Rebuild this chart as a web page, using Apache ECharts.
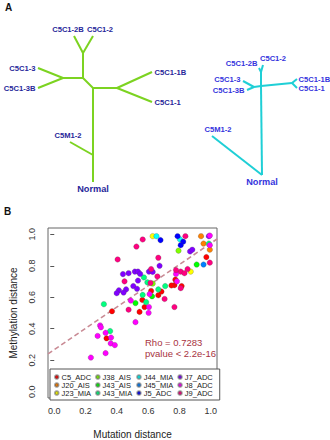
<!DOCTYPE html>
<html>
<head>
<meta charset="utf-8">
<script src="https://cdn.jsdelivr.net/npm/echarts@6/dist/echarts.min.js"></script>
<style>
  html, body { margin: 0; padding: 0; background: #fff; }
  #chart { width: 330px; height: 440px; }
</style>
</head>
<body>
<div id="chart"></div>
<script>
// ---- panel A: tree layouts (node name, x, y, label side, label offset) ----
const greenNodes = [
  ['C5C1-2B', 74, 36, 'top', [-6, 0]],
  ['C5C1-2', 93, 36, 'top', [7, 0]],
  ['g1', 83, 53], ['g2', 83, 78],
  ['C5C1-3', 38, 68, 'left', [0, 0]],
  ['C5C1-3B', 38, 88, 'left', [0, 0]],
  ['g3', 63, 78], ['g4', 93, 88], ['g5', 117, 88],
  ['C5C1-1B', 152, 72, 'right', [0, 0]],
  ['C5C1-1', 152, 102, 'right', [0, 0]],
  ['g6', 93, 155],
  ['C5M1-2', 70, 142, 'top', [-2, 0]],
  ['Normal', 93, 182, 'bottom', [0, 0]]
];
const greenEdges = [
  ['C5C1-2B', 'g1'], ['C5C1-2', 'g1'], ['g1', 'g2'], ['g2', 'g3'],
  ['g3', 'C5C1-3'], ['g3', 'C5C1-3B'], ['g2', 'g4'], ['g4', 'g5'],
  ['g5', 'C5C1-1B'], ['g5', 'C5C1-1'], ['g4', 'g6'], ['g6', 'C5M1-2'], ['g6', 'Normal']
];
const cyanNodes = [
  ['C5C1-2B', 259, 68, 'left', [1, -5]],
  ['C5C1-2', 263, 65, 'top', [10, 0]],
  ['c1', 261, 72], ['c2', 261, 86],
  ['C5C1-3', 243, 81, 'left', [0, -2]],
  ['C5C1-3B', 247, 90, 'left', [0, 0]],
  ['c3', 254, 87], ['c5', 292, 83],
  ['C5C1-1B', 297, 79, 'right', [-1, 0]],
  ['C5C1-1', 297, 88, 'right', [-1, 0]],
  ['C5M1-2', 212, 136, 'top', [6, 0]],
  ['Normal', 262, 175, 'bottom', [0, 0]]
];
const cyanEdges = [
  ['C5C1-2B', 'c1'], ['C5C1-2', 'c1'], ['c1', 'c2'], ['c2', 'c3'],
  ['c3', 'C5C1-3'], ['c3', 'C5C1-3B'], ['c2', 'c5'],
  ['c5', 'C5C1-1B'], ['c5', 'C5C1-1'], ['c2', 'Normal'], ['Normal', 'C5M1-2']
];

// ---- panel B: samples ----
const groups = ['C5_ADC', 'J20_AIS', 'J23_MIA', 'J38_AIS', 'J43_AIS', 'J43_MIA',
  'J44_MIA', 'J45_MIA', 'J5_ADC', 'J7_ADC', 'J8_ADC', 'J9_ADC'];
const groupColors = ['#FF0000', '#FF8000', '#FFFF00', '#80FF00', '#00FF00', '#00FF80',
  '#00FFFF', '#0080FF', '#0000FF', '#8000FF', '#FF00FF', '#FF0080'];

const C5_ADC = [[0.972, 0.855], [0.774, 0.712], [0.768, 0.677], [0.749, 0.675], [0.814, 0.671],
  [0.685, 0.636], [0.665, 0.613], [0.619, 0.640], [0.563, 0.583], [0.577, 0.538],
  [0.545, 0.507], [0.369, 0.511], [0.334, 0.339]];
const J20_AIS = [[0.938, 0.988], [0.954, 0.941], [0.994, 0.902]];
const J23_MIA = [[0.629, 0.988], [0.872, 0.763]];
const J38_AIS = [[0.794, 0.896], [0.629, 0.687]];
const J43_AIS = [[0.910, 0.808], [0.625, 0.606], [0.519, 0.563]];
const J43_MIA = [[0.988, 0.941], [0.709, 0.671], [0.665, 0.650], [0.573, 0.726], [0.595, 0.695],
  [0.565, 0.615], [0.587, 0.569], [0.317, 0.556], [0.357, 0.385]];
const J44_MIA = [[0.653, 0.988], [0.804, 0.967]];
const J45_MIA = [[0.954, 0.808]];
const J5_ADC = [[0.679, 0.963], [0.788, 0.988], [0.824, 0.953], [0.808, 0.931]];
const J7_ADC = [[0.868, 0.891], [0.882, 0.902], [0.988, 0.988], [0.673, 0.800], [0.439, 0.747],
  [0.475, 0.753], [0.515, 0.763], [0.535, 0.763], [0.549, 0.748], [0.605, 0.763],
  [0.629, 0.761], [0.535, 0.706], [0.505, 0.671], [0.529, 0.654], [0.459, 0.650],
  [0.413, 0.644], [0.399, 0.626], [0.443, 0.630]];
const J8_ADC = [[0.994, 0.992], [0.994, 0.931], [0.778, 0.748], [0.784, 0.701], [0.609, 0.620],
  [0.489, 0.579], [0.605, 0.538], [0.603, 0.501], [0.519, 0.442], [0.293, 0.421],
  [0.298, 0.409], [0.328, 0.374], [0.277, 0.354], [0.363, 0.344], [0.361, 0.307],
  [0.387, 0.296], [0.328, 0.245], [0.234, 0.217]];
const J9_ADC = [[0.565, 0.967], [0.525, 0.922], [0.405, 0.840], [0.838, 0.988], [0.994, 0.820],
  [0.852, 0.779], [0.808, 0.763], [0.778, 0.773], [0.832, 0.753], [0.808, 0.658],
  [0.705, 0.589], [0.768, 0.538], [0.665, 0.851], [0.659, 0.732], [0.619, 0.779],
  [0.449, 0.701], [0.615, 0.691], [0.475, 0.521]];
const groupData = [C5_ADC, J20_AIS, J23_MIA, J38_AIS, J43_AIS, J43_MIA,
  J44_MIA, J45_MIA, J5_ADC, J7_ADC, J8_ADC, J9_ADC];

// fitted trend, read at the plot edges
const fitLine = [[-0.04, 0.24], [1.04, 0.97]];
const tickValues = [0, 0.2, 0.4, 0.6, 0.8, 1.0];
const rhoText = ['Rho = 0.7283', 'pvalue < 2.2e-16'];

const treeSeries = (nodes, edges, lineColor, textColor) => ({
  type: 'graph',
  coordinateSystem: 'cartesian2d',
  xAxisIndex: 0,
  yAxisIndex: 0,
  symbolSize: 1,
  itemStyle: { color: 'rgba(0,0,0,0)' },
  silent: true,
  data: nodes.map(n => ({
    name: n[0],
    value: [n[1], n[2]],
    label: n[3] ? {
      show: true,
      formatter: '{b}',
      position: n[3],
      offset: n[4],
      distance: 2,
      color: textColor,
      fontWeight: 'bold',
      fontSize: n[0] === 'Normal' ? 9.2 : 7.6,
      fontFamily: 'Liberation Sans'
    } : { show: false }
  })),
  links: edges.map(e => ({ source: e[0], target: e[1] })),
  lineStyle: { color: lineColor, width: 2, opacity: 1, curveness: 0 }
});

const chart = echarts.init(document.getElementById('chart'), null, { renderer: 'svg' });

const pointSeries = groups.map((g, i) => ({
  name: g,
  type: 'scatter',
  xAxisIndex: 1,
  yAxisIndex: 1,
  data: groupData[i],
  symbolSize: 5.5,
  itemStyle: { color: groupColors[i], borderColor: 'rgba(70,70,70,0.5)', borderWidth: 0.5, opacity: 1 },
  z: 3
}));

chart.setOption({
  animation: false,
  textStyle: { fontFamily: 'Liberation Sans' },
  grid: [
    { left: 0, top: 0, width: 330, height: 210 },
    { left: 39, top: 228, width: 178, height: 175, show: true, borderColor: '#666', borderWidth: 1, backgroundColor: 'transparent' }
  ],
  xAxis: [
    { gridIndex: 0, type: 'value', min: 0, max: 330, show: false },
    {
      gridIndex: 1, type: 'value', min: -0.04, max: 1.04,
      splitLine: { show: false },
      axisLine: { show: false },
      axisTick: { show: true, customValues: tickValues, length: 4, lineStyle: { color: '#555' } },
      axisLabel: { customValues: tickValues, formatter: v => v.toFixed(1), fontSize: 9, color: '#333', margin: 8 },
      name: 'Mutation distance', nameLocation: 'middle', nameGap: 31,
      nameTextStyle: { fontSize: 10, color: '#222' }
    }
  ],
  yAxis: [
    { gridIndex: 0, type: 'value', min: 0, max: 210, inverse: true, show: false },
    {
      gridIndex: 1, type: 'value', min: -0.04, max: 1.04,
      splitLine: { show: false },
      axisLine: { show: false },
      axisTick: { show: true, customValues: tickValues, length: 4, lineStyle: { color: '#555' } },
      axisLabel: { customValues: tickValues, formatter: v => v.toFixed(1), fontSize: 9, color: '#333', rotate: 90, margin: 12 },
      name: 'Methylation distance', nameLocation: 'middle', nameGap: 30,
      nameTextStyle: { fontSize: 10, color: '#222' }
    }
  ],
  legend: {
    data: groups,
    orient: 'vertical',
    left: 50,
    top: 369,
    height: 26,
    padding: [4, 3, 3, 4],
    itemGap: 0,
    itemWidth: 3.5,
    itemHeight: 3.5,
    icon: 'circle',
    backgroundColor: '#fff',
    borderColor: '#555',
    borderWidth: 1,
    borderRadius: 0,
    textStyle: { fontSize: 7.5, color: '#222', padding: [0, 4, 0, -2], lineHeight: 8 }
  },
  graphic: [
    { type: 'text', left: 5, top: 2, style: { text: 'A', fontSize: 10, fontWeight: 'bold', fill: '#111', fontFamily: 'Liberation Sans' } },
    { type: 'text', left: 4, top: 206, style: { text: 'B', fontSize: 10, fontWeight: 'bold', fill: '#111', fontFamily: 'Liberation Sans' } },
    { type: 'text', left: 145, top: 337, style: { text: rhoText[0], fontSize: 9.5, fill: '#A8323E', fontFamily: 'Liberation Sans' } },
    { type: 'text', left: 145, top: 348, style: { text: rhoText[1], fontSize: 9.5, fill: '#A8323E', fontFamily: 'Liberation Sans' } }
  ],
  series: [
    treeSeries(greenNodes, greenEdges, '#7CD321', '#27279A'),
    treeSeries(cyanNodes, cyanEdges, '#1FCFD6', '#3535DD'),
    {
      type: 'line',
      xAxisIndex: 1,
      yAxisIndex: 1,
      data: fitLine,
      symbol: 'none',
      silent: true,
      lineStyle: { color: '#C98A94', width: 1.6, type: [5, 3] },
      z: 2
    },
    ...pointSeries
  ]
});
</script>
</body>
</html>
